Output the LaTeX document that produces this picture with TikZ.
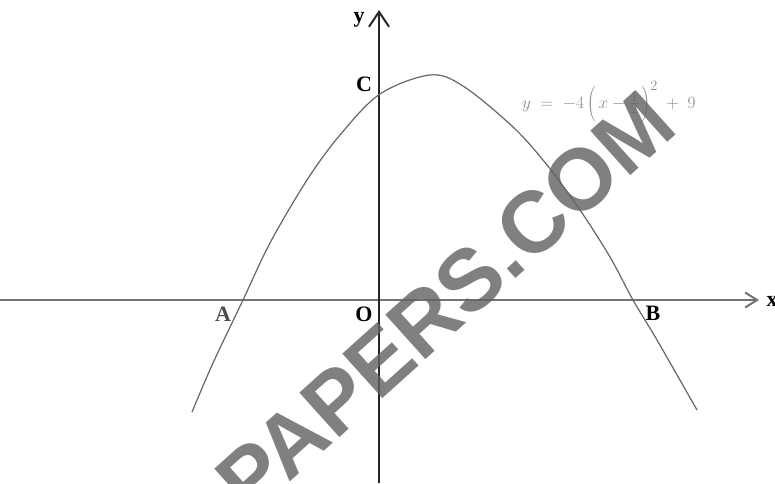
\documentclass[tikz,border=0pt]{standalone}
\usepackage{fontspec}
\setmainfont{Liberation Serif}
\newfontfamily\wmfont{Liberation Sans}
\usetikzlibrary{arrows.meta}
\begin{document}
\begin{tikzpicture}[x=1pt,y=-1pt,
  axisline/.style={line width=2pt, draw=black!85},
  curveline/.style={line width=1.2pt, draw=black!60, line join=round},
  lbl/.style={font=\fontsize{22}{22}\selectfont\bfseries, inner sep=0pt},
  eqn/.style={text=black!45, font=\fontsize{19}{19}\selectfont, inner sep=0pt},
  wm/.style={text=black!62, opacity=0.8, font=\wmfont\fontsize{87}{87}\selectfont\bfseries, inner sep=0pt}]
\useasboundingbox (0,0) rectangle (775,483);
\fill[white] (0,0) rectangle (775,483);
% axes
\coordinate (xs) at (0,300);
\coordinate (xe) at (759,300);
\coordinate (ys) at (379,483);
\coordinate (ye) at (379,10);
\draw[axisline, line width=2.6pt, draw=black!55, -{Straight Barb[length=12pt,width=15pt,line width=2pt]}] (xs) -- (xe);
\draw[axisline, -{Straight Barb[length=15pt,width=20pt]}] (ys) -- (ye);
% curve
\draw[curveline] plot[smooth, tension=0.55] coordinates {
  (192,412) (213,363) (243,300) (270,243) (307,180) (340,135) (380,94)
  (430,75) (463,86) (513,127) (547,165) (580,210) (610,257) (633,300)
  (657,340) (697,410)};
% labels
\node[lbl, text=black!70] (A) at (223,314) {A};
\node[lbl] (O) at (364,314) {O};
\node[lbl] (B) at (653,313) {B};
\node[lbl] (C) at (364,84) {C};
\node[lbl] (ylab) at (359,20) {y};
% equation
\node[eqn, anchor=base west] (eq) at (522,108) {$y\;=\;-4\left(\,x-\frac{1}{2}\vphantom{\displaystyle\frac{1}{2}}\,\right)^{2}\;+\;9$};
% watermark and clipped label
\begin{scope}
\clip (0,0) rectangle (775,483);
\node[lbl] (xlab) at (772,301) {x};
\node[wm, rotate=42] (wmk) at (445,302) {PAPERS.COM};
\end{scope}
\end{tikzpicture}
\end{document}
